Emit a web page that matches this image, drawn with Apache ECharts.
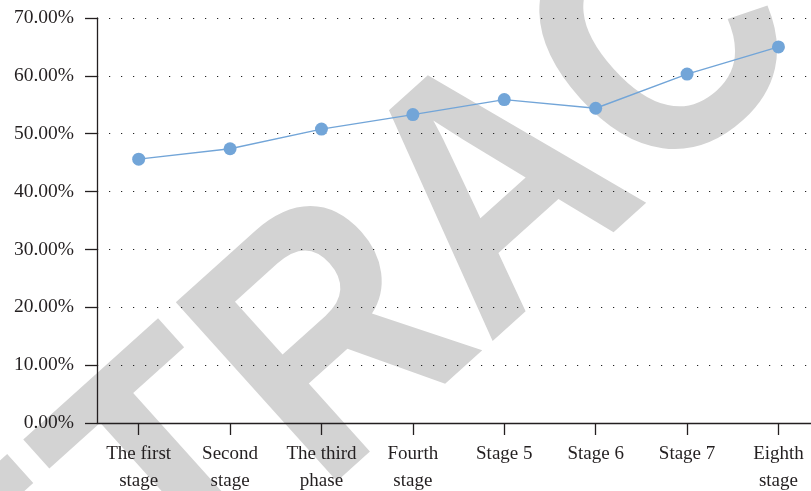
<!DOCTYPE html>
<html>
<head>
<meta charset="utf-8">
<script src="https://cdn.jsdelivr.net/npm/echarts@6/dist/echarts.min.js"></script>
<style>
  html, body { margin: 0; padding: 0; background: #fff; }
  #chart { width: 811px; height: 491px; }
</style>
</head>
<body>
<div id="chart"></div>
<script>
// Stage labels along the x axis
const categories = ['The first\nstage', 'Second\nstage', 'The third\nphase', 'Fourth\nstage',
  'Stage 5', 'Stage 6', 'Stage 7', 'Eighth\nstage'];
// Rate per stage, in percent
const rates = [45.6, 47.4, 50.8, 53.3, 55.9, 54.4, 60.3, 65.0];
// Value axis range and step, in percent
const yMin = 0, yMax = 70, yStep = 10;

const textColor = '#231f20';
const serif = '"Liberation Serif", "Times New Roman", serif';
const stageIdx = categories.map((_, i) => i);

const chart = echarts.init(document.getElementById('chart'), null, { renderer: 'canvas' });
chart.setOption({
  animation: false,
  backgroundColor: '#fff',
  graphic: [{
    type: 'text',
    z: -10,
    x: 505,
    y: 200,
    rotation: 42 * Math.PI / 180,
    scaleX: 0.88,
    style: {
      text: 'RETRACTED',
      font: 'bold 350px "Liberation Sans", Arial, sans-serif',
      fill: '#d3d3d3',
      align: 'center',
      verticalAlign: 'middle'
    }
  }],
  grid: { left: 97, right: 0, top: 18, bottom: 68, containLabel: false, outerBoundsMode: 'none' },
  // Stages sit at integer positions; the last band runs past the right edge
  xAxis: {
    type: 'value',
    min: -0.456,
    max: 7.356,
    axisLine: { show: true, onZero: false, lineStyle: { color: '#231f20', width: 1.3 } },
    axisTick: { show: true, inside: false, length: 12, customValues: stageIdx,
      lineStyle: { color: '#231f20', width: 1.3 } },
    axisLabel: { color: textColor, fontFamily: serif, fontSize: 19, lineHeight: 27, margin: 18,
      customValues: stageIdx, formatter: v => categories[Math.round(v)] },
    splitLine: { show: false }
  },
  yAxis: {
    type: 'value',
    min: yMin, max: yMax, interval: yStep,
    axisLine: { show: true, onZero: false, lineStyle: { color: '#231f20', width: 1.3 } },
    axisTick: { show: true, inside: false, length: 12, lineStyle: { color: '#231f20', width: 1.3 } },
    axisLabel: {
      color: textColor, fontFamily: serif, fontSize: 19.5, margin: 23,
      formatter: v => v.toFixed(2) + '%'
    },
    splitLine: { show: true, lineStyle: { color: '#222', width: 1.2, type: [1.2, 10.8] } }
  },
  series: [{
    type: 'line',
    data: rates.map((v, i) => [i, v]),
    symbol: 'circle',
    symbolSize: 13,
    itemStyle: { color: '#72a5d8' },
    lineStyle: { color: '#72a5d8', width: 1.4 },
    z: 5
  }]
});
</script>
</body>
</html>
